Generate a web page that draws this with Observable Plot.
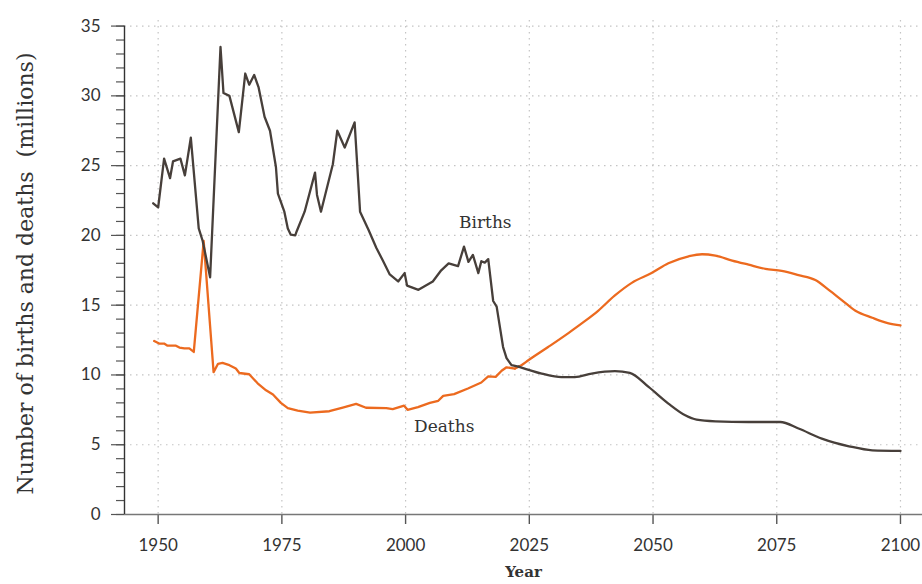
<!DOCTYPE html>
<html>
<head>
<meta charset="utf-8">
<script src="https://cdn.jsdelivr.net/npm/d3@7"></script>
<script src="https://cdn.jsdelivr.net/npm/@observablehq/plot@0.6"></script>
<style>
  html, body { margin: 0; padding: 0; background: #fff; }
  #chart svg { display: block; }
</style>
</head>
<body>
<div id="chart"></div>
<script>
// Year ticks and value ticks
const xTicks = [1950, 1975, 2000, 2025, 2050, 2075, 2100];
const yMajorTicks = [0, 5, 10, 15, 20, 25, 30, 35];
const yMinorTicks = d3.range(0, 36, 1);

// Births (millions), [year, value]
const births = [
  [1949, 22.3], [1950, 22.0], [1951.2, 25.5], [1952.4, 24.1], [1953, 25.3], [1954.5, 25.5],
  [1955.4, 24.3], [1956.6, 27.0], [1958.2, 20.5], [1959, 19.6], [1960.5, 17.0], [1962.6, 33.5],
  [1963.2, 30.2], [1964.4, 30.0], [1966.3, 27.4], [1967.6, 31.6], [1968.4, 30.8], [1969.4, 31.5],
  [1970.3, 30.6], [1971.5, 28.5], [1972.6, 27.5], [1973.8, 24.9], [1974.2, 23.0], [1975.5, 21.7],
  [1976.2, 20.5], [1976.8, 20.05], [1977.7, 20.0], [1978, 20.3], [1979.6, 21.7], [1981.7, 24.5],
  [1982.1, 22.9], [1982.9, 21.7], [1985.3, 25.1], [1986.2, 27.5], [1987.7, 26.3], [1989.7, 28.1],
  [1990.8, 21.7], [1992.5, 20.4], [1994.1, 19.1], [1995.4, 18.2], [1996.8, 17.2], [1998.5, 16.7],
  [1999.8, 17.3], [2000.3, 16.4], [2002.6, 16.1], [2005.5, 16.7], [2007.2, 17.5], [2008.7, 18.0],
  [2010.6, 17.8], [2011.8, 19.2], [2012.7, 18.1], [2013.6, 18.6], [2014.7, 17.3], [2015.3, 18.15],
  [2016, 18.05], [2016.7, 18.3], [2017.7, 15.3], [2018.4, 14.9], [2019.7, 12.0], [2020.4, 11.2],
  [2021.4, 10.7], [2022.8, 10.6]
];
const birthsProjected = [
  [2022.8, 10.6], [2027.5, 10.1], [2031.5, 9.85], [2034.2, 9.85], [2037.6, 10.1], [2042.3, 10.27],
  [2045.3, 10.15], [2049.1, 9.14], [2053.1, 7.95], [2056.5, 7.11], [2058.8, 6.8], [2062.6, 6.68],
  [2069.3, 6.63], [2075.7, 6.63], [2079.4, 6.16], [2084.1, 5.44], [2089.6, 4.89], [2094.3, 4.6],
  [2100, 4.56]
];

// Deaths (millions), [year, value]
const deaths = [
  [1949.2, 12.43], [1950.2, 12.25], [1951.2, 12.25], [1951.9, 12.1], [1953.6, 12.1], [1954.3, 11.96],
  [1955.3, 11.9], [1956.3, 11.9], [1957.2, 11.65], [1959.2, 19.6], [1961.2, 10.2], [1962.1, 10.8],
  [1963, 10.86], [1964.4, 10.7], [1965.7, 10.46], [1966.4, 10.14], [1968.4, 10.05], [1970.1, 9.4],
  [1971.8, 8.9], [1973.2, 8.6], [1974.8, 8.0], [1976.2, 7.62], [1978.2, 7.45], [1980.7, 7.3],
  [1984.6, 7.4], [1987.3, 7.66], [1990, 7.93], [1992, 7.65], [1996.1, 7.62], [1997.4, 7.55],
  [1999.7, 7.8], [2000.4, 7.5], [2002.5, 7.7], [2004.9, 8.0], [2006.6, 8.15], [2007.6, 8.5],
  [2009.8, 8.63], [2012.6, 9.03], [2015.3, 9.46], [2016.7, 9.9], [2018.2, 9.86], [2019.4, 10.3],
  [2020.4, 10.55], [2022.1, 10.46]
];
const deathsProjected = [
  [2022.1, 10.46], [2023.4, 10.7], [2024.8, 11.05], [2028.8, 12.0], [2032.9, 13.0], [2036, 13.8],
  [2038.9, 14.6], [2042.3, 15.7], [2045.7, 16.6], [2049.7, 17.3], [2053.1, 18.0], [2057.2, 18.5],
  [2059.9, 18.65], [2062.6, 18.55], [2066, 18.2], [2069.3, 17.9], [2072.7, 17.6], [2076, 17.45],
  [2079.4, 17.15], [2082.8, 16.8], [2085.5, 16.1], [2088.2, 15.35], [2090.9, 14.6], [2094.3, 14.1],
  [2097.6, 13.7], [2100, 13.55]
];

const seriesLabels = [
  {name: "Births", year: 2016.1, value: 20.9},
  {name: "Deaths", year: 2007.8, value: 6.3}
];

const xDomain = [1943.2, 2104.45];
const yDomain = [0, 35.4];
const birthColor = "#473f3a";
const deathColor = "#ec6a1f";
const sans = "Lato, 'Open Sans', sans-serif";
const serif = "'DejaVu Serif', serif";

const chart = Plot.plot({
  width: 922,
  height: 584,
  marginLeft: 124,
  marginRight: 0,
  marginTop: 20,
  marginBottom: 70,
  style: {fontFamily: sans, color: "#333", background: "#fff"},
  x: {domain: xDomain, axis: null},
  y: {domain: yDomain, axis: null},
  marks: [
    Plot.gridX(xTicks, {stroke: "#c4c4c4", strokeOpacity: 1, strokeDasharray: "1.5,4.5", strokeWidth: 1.2}),
    Plot.gridY(yMajorTicks.filter(d => d > 0), {stroke: "#c4c4c4", strokeOpacity: 1, strokeDasharray: "1.5,4.5", strokeWidth: 1.2}),
    Plot.axisY(yMinorTicks, {tickSize: 8, tickFormat: () => "", label: null, stroke: "#555", strokeWidth: 1.2}),
    Plot.axisY(yMajorTicks, {tickSize: 13, tickPadding: 11, label: null, fontSize: 17, fill: "#333", stroke: "#555", strokeWidth: 1.2}),
    Plot.axisX(xTicks, {tickSize: 10, tickPadding: 14, tickFormat: "d", label: null, fontSize: 17, fill: "#333", stroke: "#555", strokeWidth: 1.4}),
    Plot.ruleY([0], {stroke: "#777", strokeWidth: 1.6}),
    Plot.ruleX([xDomain[0]], {y1: 0, y2: 35, stroke: "#333", strokeWidth: 1.4}),
    Plot.line(deaths, {x: d => d[0], y: d => d[1], stroke: deathColor, strokeWidth: 2.3}),
    Plot.line(deathsProjected, {x: d => d[0], y: d => d[1], stroke: deathColor, strokeWidth: 2.3, curve: "monotone-x"}),
    Plot.line(births, {x: d => d[0], y: d => d[1], stroke: birthColor, strokeWidth: 2.3}),
    Plot.line(birthsProjected, {x: d => d[0], y: d => d[1], stroke: birthColor, strokeWidth: 2.3, curve: "monotone-x"}),
    Plot.text(seriesLabels, {x: "year", y: "value", text: "name", fontFamily: serif, fontSize: 17, fill: "#333"}),
    Plot.text(["Number of births and deaths  (millions)"], {frameAnchor: "left", dx: -99, dy: 6, rotate: -90, fontFamily: serif, fontSize: 22, fill: "#333", textAnchor: "middle"}),
    Plot.text(["Year"], {frameAnchor: "bottom", dy: 62, fontFamily: serif, fontWeight: "bold", fontSize: 15, fill: "#333"})
  ]
});
document.getElementById("chart").appendChild(chart);
</script>
</body>
</html>
